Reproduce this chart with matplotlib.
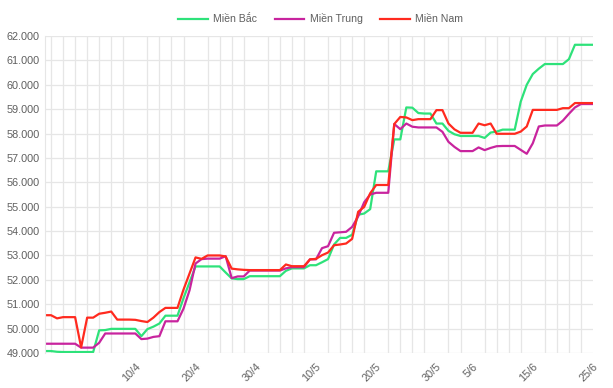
import matplotlib
matplotlib.use("Agg")
import matplotlib.pyplot as plt
import matplotlib.dates as mdates
from matplotlib.ticker import FuncFormatter, MultipleLocator
import pandas as pd

# daily prices (VND/kg, in thousands) from 26/3 to 25/6
dates = pd.date_range("2024-03-26", "2024-06-25", freq="D")

mien_bac = [
    49.08, 49.08, 49.05, 49.04, 49.04, 49.04, 49.04, 49.04, 49.04, 49.93,
    49.94, 49.99, 49.99, 49.99, 49.99, 49.99, 49.69, 49.98, 50.08, 50.21,
    50.53, 50.53, 50.53, 51.25, 51.90, 52.55, 52.55, 52.55, 52.55, 52.55,
    52.30, 52.06, 52.03, 52.03, 52.15, 52.15, 52.15, 52.15, 52.15, 52.15,
    52.37, 52.47, 52.47, 52.47, 52.60, 52.60, 52.72, 52.85, 53.45, 53.72,
    53.72, 53.85, 54.67, 54.72, 54.90, 56.45, 56.45, 56.45, 57.76, 57.76,
    59.07, 59.06, 58.84, 58.82, 58.82, 58.41, 58.41, 58.11, 57.97, 57.90,
    57.90, 57.90, 57.90, 57.82, 58.04, 58.08, 58.16, 58.16, 58.16, 59.31,
    60.00, 60.44, 60.66, 60.85, 60.85, 60.85, 60.85, 61.05, 61.64, 61.64,
    61.64, 61.64,
]
mien_trung = [
    49.38, 49.38, 49.38, 49.38, 49.38, 49.38, 49.22, 49.22, 49.22, 49.42,
    49.80, 49.80, 49.80, 49.80, 49.80, 49.80, 49.57, 49.59, 49.66, 49.69,
    50.30, 50.30, 50.30, 50.82, 51.57, 52.67, 52.85, 52.87, 52.87, 52.87,
    52.97, 52.07, 52.14, 52.14, 52.38, 52.38, 52.38, 52.38, 52.38, 52.38,
    52.47, 52.52, 52.52, 52.52, 52.84, 52.84, 53.30, 53.38, 53.93, 53.95,
    53.97, 54.17, 54.60, 55.18, 55.50, 55.57, 55.57, 55.57, 58.39, 58.18,
    58.41, 58.28, 58.25, 58.25, 58.25, 58.25, 58.07, 57.66, 57.45, 57.28,
    57.28, 57.28, 57.43, 57.32, 57.41, 57.48, 57.49, 57.49, 57.49, 57.33,
    57.17, 57.60, 58.29, 58.33, 58.33, 58.33, 58.53, 58.81, 59.07, 59.21,
    59.21, 59.21,
]
mien_nam = [
    50.55, 50.55, 50.42, 50.47, 50.47, 50.47, 49.23, 50.45, 50.45, 50.61,
    50.65, 50.70, 50.37, 50.37, 50.37, 50.36, 50.31, 50.27, 50.45, 50.68,
    50.85, 50.85, 50.85, 51.60, 52.26, 52.92, 52.86, 53.00, 53.00, 53.00,
    52.96, 52.46, 52.43, 52.41, 52.40, 52.40, 52.40, 52.40, 52.40, 52.40,
    52.63, 52.56, 52.56, 52.56, 52.84, 52.86, 53.01, 53.12, 53.42, 53.45,
    53.49, 53.68, 54.79, 54.99, 55.55, 55.89, 55.89, 55.89, 58.39, 58.68,
    58.66, 58.55, 58.59, 58.59, 58.59, 58.96, 58.96, 58.41, 58.17, 58.03,
    58.03, 58.03, 58.41, 58.34, 58.41, 57.99, 57.99, 57.99, 57.99, 58.08,
    58.29, 58.97, 58.97, 58.97, 58.97, 58.97, 59.04, 59.04, 59.25, 59.25,
    59.25, 59.25,
]

series = [
    ("Miền Bắc", mien_bac, "#2ee27a"),
    ("Miền Trung", mien_trung, "#c8249e"),
    ("Miền Nam", mien_nam, "#ff2a1f"),
]

plt.rcParams["font.family"] = ["Liberation Sans", "DejaVu Sans"]

fig = plt.figure(figsize=(6.13, 3.88), dpi=100)
ax = fig.add_axes([45 / 613, 1 - 353 / 388, 548 / 613, 317 / 388])

for name, vals, color in series:
    ax.plot(dates, [v * 1000 for v in vals], color=color, lw=1.6, label=name,
            solid_joinstyle="round")

ax.set_ylim(49000, 62000)
ax.set_xlim(dates[0], dates[-1])
ax.yaxis.set_major_locator(MultipleLocator(1000))
ax.yaxis.set_major_formatter(FuncFormatter(lambda v, p: f"{v:,.0f}".replace(",", ".")))

# gridlines every 2 days, labels only on days divisible by 5
grid_dates = dates[1::2]
label_dates = [d for d in grid_dates if d.day % 5 == 0]
ax.set_xticks(grid_dates, minor=True)
ax.set_xticks(label_dates)
ax.xaxis.set_major_formatter(mdates.DateFormatter("%-d/%-m"))
ax.grid(True, which="minor", axis="x", color="#e6e6e6", lw=0.9)
ax.grid(True, which="major", axis="y", color="#e6e6e6", lw=0.9)
ax.set_axisbelow(True)

for lbl in ax.get_xticklabels():
    lbl.set_rotation(45)
    lbl.set_ha("right")
    lbl.set_rotation_mode("anchor")

ax.tick_params(axis="both", which="both", length=0, colors="#5f5f5f", labelsize=7.8)
ax.tick_params(axis="x", pad=6)
ax.tick_params(axis="y", pad=4)
for s in ["top", "right", "bottom"]:
    ax.spines[s].set_visible(False)
ax.spines["left"].set_color("#e6e6e6")

fig.legend(loc="upper center", bbox_to_anchor=(0.523, 0.99), ncol=3, frameon=False,
           fontsize=7.6, handlelength=2.8, handletextpad=0.5, columnspacing=1.7,
           labelcolor="#5f5f5f")

fig.savefig("out.png", dpi=100)
